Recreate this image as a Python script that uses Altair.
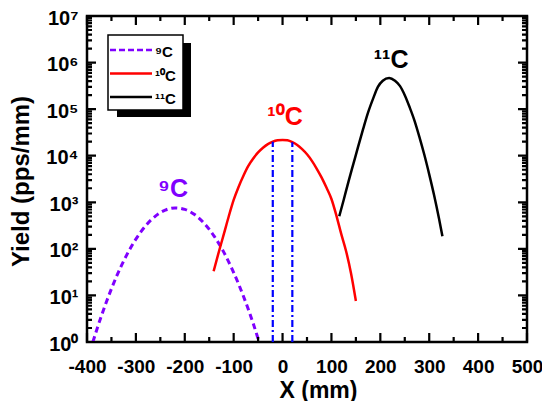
import altair as alt
import pandas as pd

# ---------------- data ----------------
series_names = ["⁹C", "¹⁰C", "¹¹C"]
series_colors = ["#8000ff", "#ff0000", "#000000"]

c9_x = [-388, -380, -360, -340, -320, -300, -280, -260, -240, -220, -200,
        -180, -160, -140, -120, -100, -80, -60, -48]
c9_y = [1.0, 1.84, 7.4, 25, 70, 162, 314, 506, 679, 758, 704,
        545, 351, 188, 84, 31, 9.6, 2.5, 1.0]

c10_x = [-141, -130, -120, -110, -100, -90, -80, -70, -60, -50, -40, -30, -20,
         -10, 0, 10, 20, 30, 40, 50, 60, 70, 80, 90, 100, 110, 120, 130, 140, 150]
c10_y = [33, 89, 209, 501, 1122, 2138, 3715, 6026, 8710, 11749, 14791, 17783,
         19953, 21380, 21878, 21380, 19498, 16982, 13804, 10715, 7762, 5248,
         3388, 2042, 1175, 525, 209, 89, 30, 7.6]

c11_x = [116, 125, 135, 145, 155, 165, 175, 185, 195, 205, 218, 230, 240, 250,
         260, 270, 280, 290, 300, 310, 320, 327]
c11_y = [501, 1122, 2818, 6761, 16218, 38019, 85114, 165959, 301995, 407380,
         467735, 407380, 316228, 199526, 109648, 56234, 25119, 10471, 3981,
         1413, 447, 186]

# blue dash-dot markers
marker_x = [-20, 20]
marker_y0 = [1, 1]
marker_y1 = [20000, 19500]

# in-plot labels
label_text = ["⁹C", "¹⁰C", "¹¹C"]
label_x = [-224, 5, 222]
label_y = [1280, 45000, 770000]

# ticks
x_label_values = [-400, -300, -200, -100, 0, 100, 200, 300, 400, 500]
x_minor_values = [-350, -250, -150, -50, 50, 150, 250, 350, 450]
y_label_values = [1, 10, 100, 1000, 10000, 100000, 1000000, 10000000]
y_tick_labels = ["10⁰", "10¹", "10²", "10³", "10⁴", "10⁵", "10⁶", "10⁷"]
y_minor_values = [m * d for d in [1, 10, 100, 1000, 10000, 100000, 1000000]
                  for m in range(2, 10)]

# ---------------- chart ----------------
W, H = 440, 326
FONT = "Liberation Sans"
X_DOM = [-400, 500]
Y_DOM = [1, 10000000]
MAJ_PX, MIN_PX = 9, 5

xscale = alt.Scale(domain=X_DOM, nice=False, zero=False)
yscale = alt.Scale(type="log", domain=Y_DOM, nice=False)

x_labels_axis = alt.Axis(
    orient="bottom", values=x_label_values, labelExpr="'' + datum.value",
    ticks=False, tickSize=0, domain=False, grid=False,
    labelFont=FONT, labelFontSize=19, labelFontWeight="bold", labelColor="black",
    labelBaseline="alphabetic", labelPadding=30, labelFlush=False, labelOverlap=False,
    title="X (mm)", titleFont=FONT, titleFontSize=23, titleFontWeight="bold",
    titleColor="black", titleX=231, titleY=55, titleBaseline="alphabetic",
    titleAlign="center")

ylab_expr = "[" + ",".join("'%s'" % s for s in y_tick_labels) + "][round(log(datum.value)/LN10)]"
y_labels_axis = alt.Axis(
    orient="left", values=y_label_values, labelExpr=ylab_expr,
    ticks=False, tickSize=0, domain=False, grid=False,
    labelFont=FONT, labelFontSize=20, labelFontWeight="bold", labelColor="black",
    labelAlign="right", labelBaseline="alphabetic", labelOffset=8, labelPadding=9,
    labelFlush=False, labelOverlap=False,
    title="Yield (pps/mm)", titleFont=FONT, titleFontSize=24, titleFontWeight="bold",
    titleColor="black", titleX=-59, titleY=165, titleBaseline="alphabetic",
    titleAngle=270, titleAlign="center")

df9 = pd.DataFrame({"x": c9_x, "y": c9_y})
df10 = pd.DataFrame({"x": c10_x, "y": c10_y})
df11 = pd.DataFrame({"x": c11_x, "y": c11_y})

l9 = alt.Chart(df9).mark_line(color=series_colors[0], strokeWidth=3,
                              strokeDash=[6, 4], interpolate="monotone").encode(
    x=alt.X("x:Q", scale=xscale, axis=x_labels_axis),
    y=alt.Y("y:Q", scale=yscale, axis=y_labels_axis))

l10 = alt.Chart(df10).mark_line(color=series_colors[1], strokeWidth=2.5,
                                interpolate="monotone").encode(
    x=alt.X("x:Q", scale=xscale, axis=None),
    y=alt.Y("y:Q", scale=yscale, axis=None))

l11 = alt.Chart(df11).mark_line(color=series_colors[2], strokeWidth=2.5,
                                interpolate="monotone").encode(
    x=alt.X("x:Q", scale=xscale, axis=None),
    y=alt.Y("y:Q", scale=yscale, axis=None))

# one rule layer: the two blue dash-dot markers plus the inward frame ticks
mm_per_px = (X_DOM[1] - X_DOM[0]) / W
dec_per_px = 7 / H
seg = {"x": [], "x2": [], "y": [], "y2": [], "c": [], "d": []}


def add(x, x2, y, y2, c, d):
    seg["x"].append(x); seg["x2"].append(x2)
    seg["y"].append(y); seg["y2"].append(y2)
    seg["c"].append(c); seg["d"].append(d)


for mx, m0, m1 in zip(marker_x, marker_y0, marker_y1):
    add(mx, mx, m0, m1, "#0000ff", "dashdot")
for vals, px in ((x_label_values, MAJ_PX), (x_minor_values, MIN_PX)):
    f = 10 ** (px * dec_per_px)
    for v in vals:
        add(v, v, Y_DOM[0], round(Y_DOM[0] * f, 5), "#000000", "solid")
        add(v, v, Y_DOM[1], round(Y_DOM[1] / f, 1), "#000000", "solid")
for vals, px in ((y_label_values, MAJ_PX), (y_minor_values, MIN_PX)):
    dmm = round(px * mm_per_px, 3)
    for v in vals:
        add(X_DOM[0], X_DOM[0] + dmm, v, v, "#000000", "solid")
        add(X_DOM[1], X_DOM[1] - dmm, v, v, "#000000", "solid")
dseg = pd.DataFrame(seg)

rules = alt.Chart(dseg).mark_rule(strokeWidth=2.2).encode(
    x=alt.X("x:Q", scale=xscale, axis=None),
    x2="x2:Q",
    y=alt.Y("y:Q", scale=yscale, axis=None),
    y2="y2:Q",
    color=alt.Color("c:N", scale=None),
    strokeDash=alt.StrokeDash("d:N", scale=alt.Scale(domain=["dashdot", "solid"],
                                                     range=[[7, 3, 2, 3], [1, 0]]),
                              legend=None))

dft = pd.DataFrame({"x": label_x, "y": label_y, "t": label_text, "c": series_colors})
txt = alt.Chart(dft).mark_text(font=FONT, fontSize=25, fontWeight="bold",
                               align="center", baseline="alphabetic").encode(
    x=alt.X("x:Q", scale=xscale, axis=None),
    y=alt.Y("y:Q", scale=yscale, axis=None),
    text="t:N",
    color=alt.Color("c:N", scale=None))

one = pd.DataFrame({"k": [0]})
legend_layers = [
    alt.Chart(one).mark_rect(fill="black").encode(
        x=alt.value(30), x2=alt.value(104), y=alt.value(27), y2=alt.value(101)),
    alt.Chart(one).mark_rect(fill="white", stroke="black", strokeWidth=1.5).encode(
        x=alt.value(21), x2=alt.value(96), y=alt.value(19), y2=alt.value(94)),
]
dashes = [[6, 3], [1, 0], [1, 0]]
for i, (name, col) in enumerate(zip(series_names, series_colors)):
    legend_layers.append(
        alt.Chart(one).mark_rule(color=col, strokeWidth=2.5, strokeDash=dashes[i]).encode(
            x=alt.value(23), x2=alt.value(65), y=alt.value(34 + 23.5 * i)))
    legend_layers.append(
        alt.Chart(one).mark_text(font=FONT, fontSize=15, fontWeight="bold",
                                 align="left", baseline="alphabetic", color="black").encode(
            x=alt.value(68), y=alt.value(41 + 23.5 * i), text=alt.value(name)))

chart = alt.layer(l9, l10, l11, rules, txt, *legend_layers).resolve_axis(
    x="independent", y="independent"
).properties(
    width=W, height=H,
    padding={"left": 79, "top": 8, "right": 15, "bottom": 59},
    autosize=alt.AutoSizeParams(type="none"),
).configure_view(stroke="black", strokeWidth=2.5)

chart.save("out.html", embed_options={"renderer": "svg", "actions": False})
